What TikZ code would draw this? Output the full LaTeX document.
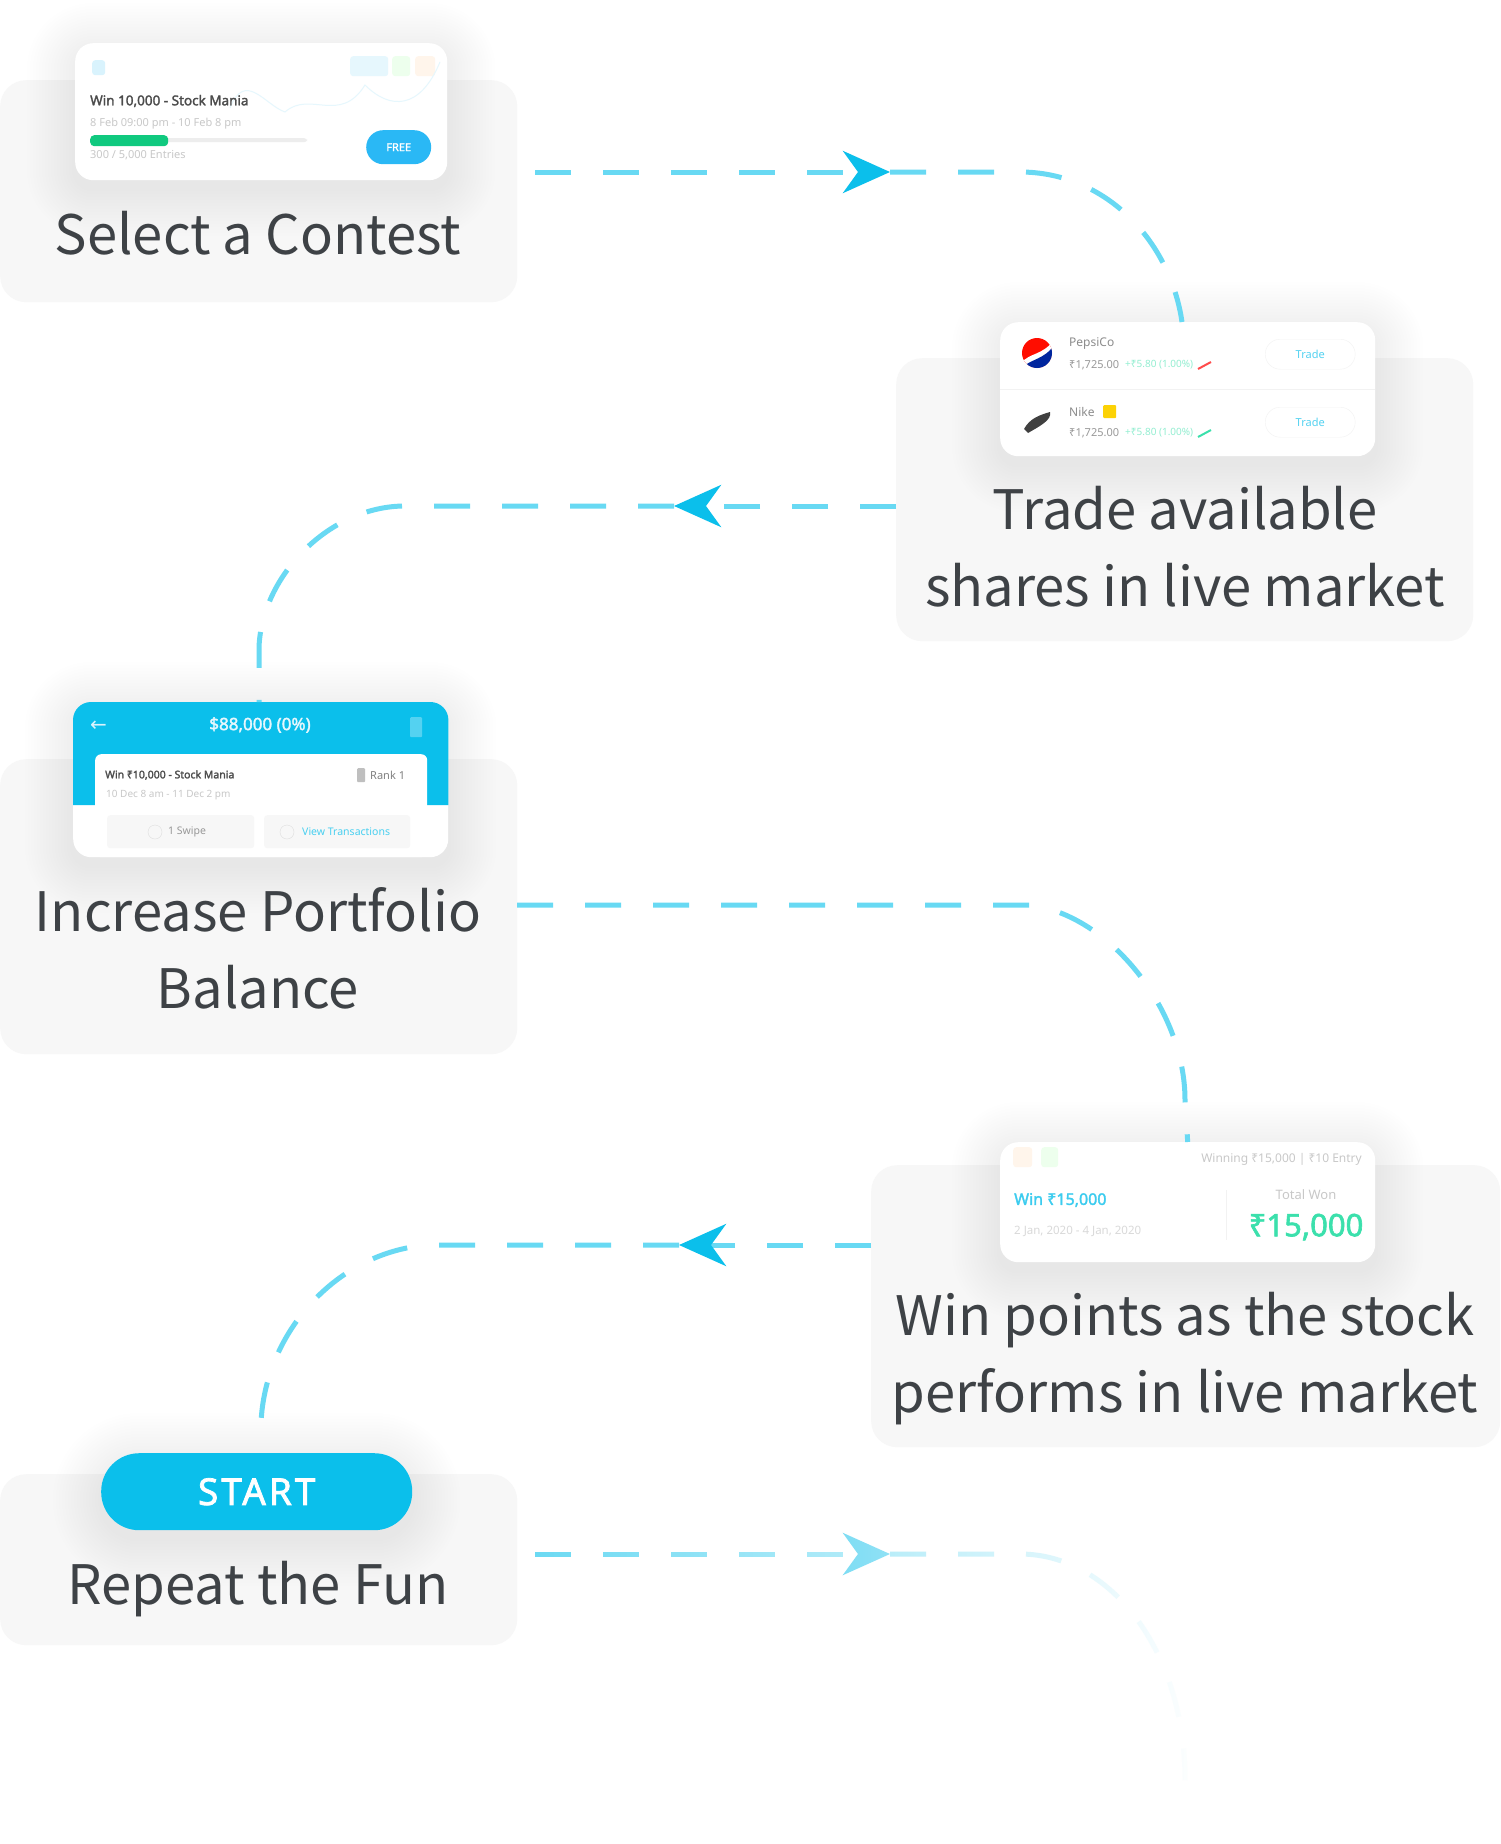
\documentclass[tikz,border=0pt]{standalone}
\usepackage{fontspec}
\setmainfont{Noto Sans CJK SC}
\newfontfamily\cardfont[AutoFakeBold=2]{Noto Sans}
\newfontfamily\symbolfont{DejaVu Sans}
\usetikzlibrary{arrows.meta, positioning, calc, backgrounds, fadings}
\definecolor{panelgray}{RGB}{247,247,247}
\definecolor{flowblue}{RGB}{104,217,243}
\definecolor{headblue}{RGB}{11,191,235}
\definecolor{labelgray}{RGB}{62,66,70}
\definecolor{softgray}{RGB}{200,200,200}
\definecolor{wingreen}{RGB}{59,224,172}
\definecolor{bargreen}{RGB}{16,201,127}
\definecolor{freeblue}{RGB}{42,184,245}
\tikzfading[name=flowfade, left color=transparent!100, right color=transparent!0]
\tikzset{
  panel/.style={rectangle, fill=panelgray, rounded corners=26, anchor=north west, inner sep=0},
  card/.style={rectangle, fill=white, rounded corners=18, anchor=north west, inner sep=0},
  steplabel/.style={align=center, text=labelgray, inner sep=0, font=\fontsize{54.4}{77}\selectfont},
  cardtext/.style={anchor=west, inner sep=0, text=softgray, font=\cardfont\fontsize{#1}{#1}\selectfont},
  boldtext/.style={anchor=west, inner sep=0, text=black!70, font=\cardfont\bfseries\fontsize{#1}{#1}\selectfont},
  flow/.style={draw=flowblue, line width=5, dash pattern=on 36 off 32},
  flowhead/.style={flow, -{Stealth[length=47,width=42,inset=15,color=headblue]}},
  chip/.style={rectangle, rounded corners=3, inner sep=0, anchor=north west}
}
\begin{document}
\begin{tikzpicture}[x=1pt, y=-1pt]
  \useasboundingbox (0,0) rectangle (1500,1844);

  % Place cards
  \node [card, minimum width=372, minimum height=137] (contest) at (75,43) {};
  \node [card, minimum width=375, minimum height=134] (trade) at (1000,322) {};
  \node [card, minimum width=375, minimum height=155] (balance) at (73,702) {};
  \node [card, minimum width=375, minimum height=120] (points) at (1000,1142) {};
  \node [card, fill=headblue, rounded corners=38, minimum width=311, minimum height=77,
      text=white, font=\cardfont\bfseries\addfontfeature{LetterSpace=8}\fontsize{37}{37}\selectfont] (start) at (101,1453) {\raisebox{-2pt}{START}};

  % panels and soft shadows
  \begin{scope}[on background layer]
    \fill [white] (0,0) rectangle (1500,1844);
    \node [panel, minimum width=517, minimum height=222] (contestpanel) at (0,80) {};
    \node [panel, minimum width=577, minimum height=283] (tradepanel) at (896,358) {};
    \node [panel, minimum width=517, minimum height=295] (balancepanel) at (0,759) {};
    \node [panel, minimum width=629, minimum height=282] (pointspanel) at (871,1165) {};
    \node [panel, minimum width=517, minimum height=171] (repeatpanel) at (0,1474) {};
    \foreach \c/\r in {contest/18, trade/18, balance/18, points/18, start/38}
      \foreach \i in {1,...,16}
        \fill [black, opacity=.005, rounded corners=\r+3*\i]
          ($(\c.north west)+(-3*\i,-3*\i+8)$) rectangle ($(\c.south east)+(3*\i,3*\i+8)$);
  \end{scope}

  % Place labels
  \node [steplabel] (contestlabel) at (258,233) {Select a Contest};
  \node [steplabel] (tradelabel) at (1185,547) {Trade available\\shares in live market};
  \node [steplabel] (balancelabel) at (258,948) {Increase Portfolio\\Balance};
  \node [steplabel] (pointslabel) at (1185,1359) {Win points as the stock\\performs in live market};
  \node [steplabel] (repeatlabel) at (258,1589) {Repeat the Fun};

  % contest card
  \node [chip, fill=cyan!15, minimum width=13, minimum height=15] (c1icon) at (92,60) {};
  \node [chip, fill=cyan!10, minimum width=38, minimum height=20] (c1pill) at (350,56) {};
  \node [chip, fill=green!7, minimum width=18, minimum height=20] (c1green) at (392,56) {};
  \node [chip, fill=orange!8, minimum width=20, minimum height=20] (c1orange) at (415,56) {};
  \draw [cyan!10, line width=1] (230,108) .. controls (245,70) and (265,105) .. (285,112)
      .. controls (310,90) and (340,125) .. (365,85) .. controls (390,110) and (420,110) .. (440,62);
  \node [boldtext=13.5] (c1title) at (90,101) {Win 10,000 - Stock Mania};
  \node [cardtext=11] (c1date) at (90,124) {8 Feb 09:00 pm - 10 Feb 8 pm};
  \node [chip, fill=black!7, minimum width=217, minimum height=4] (c1track) at (90,138) {};
  \node [chip, fill=bargreen, minimum width=78, minimum height=11, rounded corners=4] (c1bar) at (90,135) {};
  \node [cardtext=11] (c1entries) at (90,155) {300 / 5,000 Entries};
  \node [chip, fill=freeblue, rounded corners=17, minimum width=65, minimum height=34,
      text=white, font=\cardfont\bfseries\fontsize{11}{11}\selectfont] (c1free) at (366,130) {FREE};

  % trade card
  \draw [black!5, line width=1] (trade.west |- 0,389) -- (trade.east |- 0,389);
  \begin{scope}
    \clip (1037,353) circle (15);
    \fill [red!90!orange] (1020,336) rectangle (1054,370);
    \fill [white] (1020,364) .. controls (1030,352) and (1042,356) .. (1054,340) -- (1054,370) -- (1020,370) -- cycle;
    \fill [blue!55!black!85!cyan] (1020,369) .. controls (1032,358) and (1044,360) .. (1054,345) -- (1054,370) -- (1020,370) -- cycle;
  \end{scope}
  \node [cardtext=12, text=black!45] (c2name) at (1069,344) {PepsiCo};
  \node [cardtext=11, text=black!40] (c2price) at (1069,365) {₹1,725.00};
  \node [cardtext=10, text=wingreen!55] (c2gain) at (1125,365) {+₹5.80 (1.00\%)};
  \draw [red!70, line width=2] (1198,369) -- (1211,362);
  \node [chip, draw=black!5, fill=white, rounded corners=15, minimum width=90, minimum height=30,
      text=headblue!70, font=\cardfont\fontsize{11}{11}\selectfont] (c2btn) at (1265,339) {Trade};
  \fill [black!75] (1024,429) .. controls (1030,418) and (1040,415) .. (1050,412)
      .. controls (1052,420) and (1040,426) .. (1028,433) -- cycle;
  \node [cardtext=12, text=black!45] (c2nike) at (1069,412) {Nike};
  \node [chip, fill=yellow!70!orange, rounded corners=1, minimum width=13, minimum height=13] (c2star) at (1103,405) {};
  \node [cardtext=11, text=black!40] (c2cost) at (1069,433) {₹1,725.00};
  \node [cardtext=10, text=wingreen!55] (c2rise) at (1125,433) {+₹5.80 (1.00\%)};
  \draw [wingreen, line width=2] (1198,437) -- (1211,430);
  \node [chip, draw=black!5, fill=white, rounded corners=15, minimum width=90, minimum height=30,
      text=headblue!70, font=\cardfont\fontsize{11}{11}\selectfont] (c2sell) at (1265,407) {Trade};

  % balance card
  \fill [headblue] (balance.west |- 0,805) [rounded corners=18] -- (balance.north west)
      -- (balance.north east) [sharp corners] -- (balance.east |- 0,805) -- cycle;
  \node [chip, fill=white, minimum width=332, minimum height=103, rounded corners=6] (c3inner) at (95,754) {};
  \node [anchor=west, inner sep=0, text=white!85!cyan, font=\symbolfont\fontsize{20}{20}\selectfont] (c3back) at (90,726) {←};
  \node [anchor=center, inner sep=0, text=white!90!cyan, font=\cardfont\bfseries\fontsize{17}{17}\selectfont] (c3title) at (260,725) {\$88,000 (0\%)};
  \node [chip, fill=white, opacity=.3, minimum width=12, minimum height=20, rounded corners=1] (c3menu) at (410,717) {};
  \node [boldtext=10.5] (c3name) at (105,775) {Win ₹10,000 - Stock Mania};
  \node [chip, fill=black!25, minimum width=8, minimum height=14, rounded corners=1] (c3rankicon) at (357,768) {};
  \node [cardtext=11, text=black!50] (c3rank) at (370,775) {Rank 1};
  \node [cardtext=10] (c3date) at (106,795) {10 Dec 8 am - 11 Dec 2 pm};
  \node [chip, fill=panelgray, minimum width=147, minimum height=33] (c3left) at (107,815) {};
  \node [chip, fill=panelgray, minimum width=146, minimum height=33] (c3right) at (264,815) {};
  \draw [softgray!60] (155,832) circle (7) (287,832) circle (7);
  \node [cardtext=10.5, text=black!40] (c3swipe) at (168,832) {1 Swipe};
  \node [cardtext=10.5, text=headblue!75] (c3view) at (302,832) {View Transactions};

  % points card
  \node [chip, fill=orange!8, minimum width=19, minimum height=20] (c4orange) at (1013,1147) {};
  \node [chip, fill=green!7, minimum width=17, minimum height=20] (c4green) at (1041,1147) {};
  \node [cardtext=12, anchor=east] (c4entry) at (1362,1159) {Winning ₹15,000 | ₹10 Entry};
  \node [boldtext=16, text=headblue!80] (c4win) at (1014,1200) {Win ₹15,000};
  \node [cardtext=11.5, text=black!15] (c4date) at (1014,1231) {2 Jan, 2020 - 4 Jan, 2020};
  \draw [black!5, line width=1] (1226,1190) -- (1226,1240);
  \node [cardtext=13, anchor=center] (c4total) at (1306,1195) {Total Won};
  \node [boldtext=31, anchor=center, text=wingreen] (c4amount) at (1306,1227) {₹15,000};

  % flow coordinates
  \coordinate (contestout) at (535,172);
  \coordinate (contesthead) at (890,172);
  \coordinate (tradein) at (1182,322);
  \coordinate (tradeout) at (896,506);
  \coordinate (tradehead) at (674,506);
  \coordinate (balanceout) at (517,905);
  \coordinate (pointsout) at (871,1245);
  \coordinate (pointshead) at (679,1245);
  \coordinate (startin) at (261,1423);
  \coordinate (repeatout) at (535,1554);
  \coordinate (repeathead) at (890,1554);
  \coordinate (repeatend) at (1185,1780);

  %paths
  \path [flowhead] (contestout) -- (contesthead);
  \path [flow] (contesthead) -- (1020,172) .. controls (1105,172) and (1170,240) .. (tradein);
  \path [flowhead] (tradeout) -- (tradehead);
  \path [flow] (tradehead) -- (405,506) .. controls (330,506) and (262,575) .. (259,647) -- (balance.north -| 259,0);
  \path [flow] (balanceout) -- (1030,905) .. controls (1110,915) and (1185,1010) .. (1185,1100) -- (points.north);
  \path [flowhead] (pointsout) -- (pointshead);
  \path [flow] (pointshead) -- (430,1245) .. controls (340,1250) and (265,1330) .. (startin);
  \path [flowhead] (repeatout) -- (repeathead);
  \path [flow] (repeathead) -- (1020,1554) .. controls (1110,1554) and (1185,1650) .. (repeatend);
  \fill [white, path fading=flowfade] (519,1530) rectangle (1200,1790);
\end{tikzpicture}
\end{document}
